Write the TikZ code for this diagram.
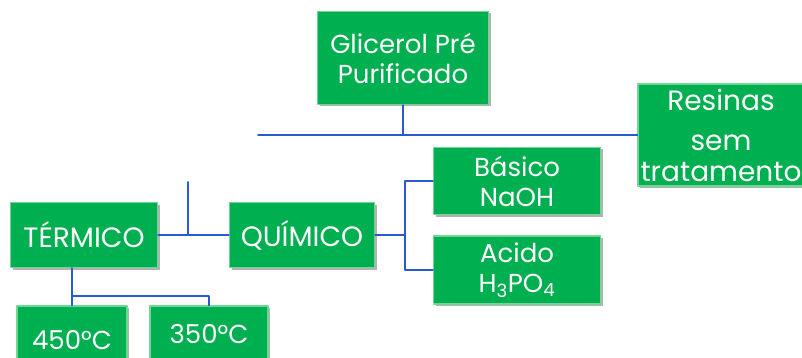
\documentclass[tikz,border=0pt]{standalone}
\usepackage{fontspec}
\setmainfont{Poppins}
\usepackage{tikz}
\usepackage{xcolor}
\usetikzlibrary{arrows.meta,calc,positioning,shadows}
\definecolor{procgreen}{RGB}{0,176,80}
\definecolor{procedge}{RGB}{110,215,150}
\definecolor{proclink}{RGB}{40,90,210}
\tikzset{
  every picture/.append style={line cap=round,line join=round},
  proc box/.style={rectangle,fill=procgreen,draw=procedge,line width=1.2pt,
    text=white,align=center,inner sep=2pt,
    font=\fontsize{26}{30}\selectfont,
    drop shadow={shadow xshift=2pt,shadow yshift=-2pt,fill=black,opacity=0.3}},
  proc big/.style={font=\fontsize{28}{31}\selectfont},
  proc link/.style={proclink,line width=1.6pt}
}
\begin{document}
\begin{tikzpicture}[x=1pt,y=-1pt]
  \useasboundingbox (0,0) rectangle (802,358);
  \clip (0,0) rectangle (802,358);
  % boxes
  \node[proc box,minimum width=171pt,minimum height=93pt] (glic) at (403,58) {Glicerol Pré\\Purificado};
  \node[proc box,proc big,minimum width=166pt,minimum height=102pt,inner sep=0pt] (res) at (721,135) {Resinas\\[9pt]sem\\tratamento};
  \node[proc box,minimum width=167pt,minimum height=67pt] (bas) at (517,181) {Básico\\NaOH};
  \node[proc box,minimum width=167pt,minimum height=68pt] (aci) at (517,270) {Acido\\H\textsubscript{3}PO\textsubscript{4}};
  \node[proc box,proc big,minimum width=147pt,minimum height=65pt] (term) at (84,235) {TÉRMICO};
  \node[proc box,proc big,minimum width=145pt,minimum height=65pt] (quim) at (302,235) {QUÍMICO};
  \node[proc box,minimum width=110pt,minimum height=68pt,text depth=-14pt] (t450) at (72,340) {450°C};
  \node[proc box,minimum width=118pt,minimum height=56pt] (t350) at (209,334) {350°C};
  % links
  \coordinate (busL) at (258,135);
  \draw[proc link] (glic.south) -- (glic.south |- busL);
  \draw[proc link] (busL) -- (res.west);
  \coordinate (stub) at (188,182);
  \draw[proc link] (stub) -- (stub |- term.east);
  \draw[proc link] (term.east) -- (quim.west);
  \draw[proc link] (quim.east) -- ++(30,0) coordinate (qj);
  \draw[proc link] (bas.west) -- (bas.west -| qj) -- (aci.west -| qj) -- (aci.west);
  \coordinate (tj) at (72,296);
  \draw[proc link] (term.south -| t450.north) -- (t450.north);
  \draw[proc link] (tj) -| (t350.north);
\end{tikzpicture}
\end{document}
